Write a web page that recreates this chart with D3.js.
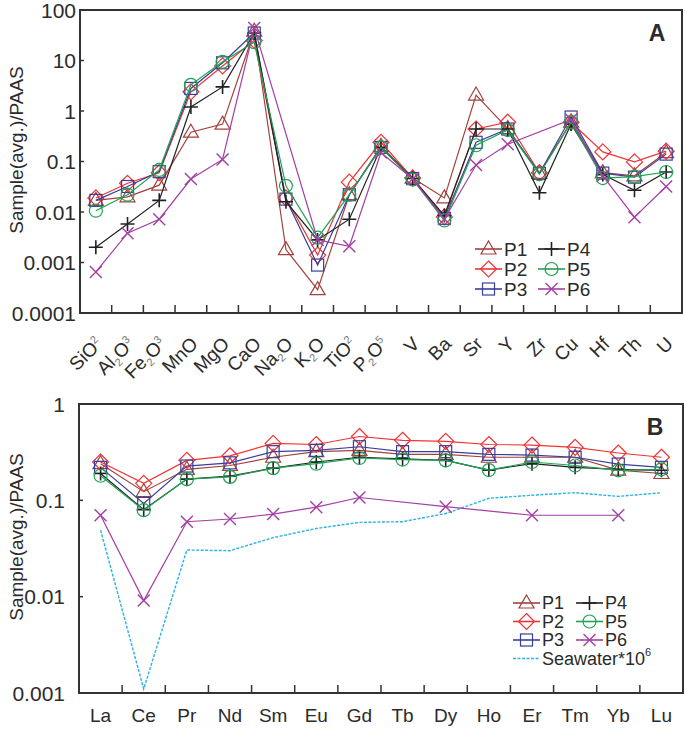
<!DOCTYPE html>
<html>
<head>
<meta charset="utf-8">
<script src="https://cdn.jsdelivr.net/npm/d3@7"></script>
<style>
  body { margin: 0; background: #fff; }
  svg { display: block; font-family: "Liberation Sans", Arial, sans-serif; }
</style>
</head>
<body>
<svg id="chart"></svg>
<script>
// ---- panel A : major / trace elements ----
var elementsA = ["SiO2","Al2O3","Fe2O3","MnO","MgO","CaO","Na2O","K2O","TiO2","P2O5","V","Ba","Sr","Y","Zr","Cu","Hf","Th","U"];
var p1A = [0.017, 0.02, 0.034, 0.38, 0.55, 38, 0.0018, 0.00029, 0.022, 0.2, 0.047, 0.019, 2.07, 0.45, 0.058, 0.6, 0.06, 0.052, 0.15];
var p2A = [0.019, 0.037, 0.06, 2.4, 7.8, 25, 0.019, 0.0014, 0.039, 0.24, 0.047, 0.008, 0.44, 0.6, 0.06, 0.6, 0.155, 0.098, 0.16];
var p3A = [0.017, 0.032, 0.063, 2.8, 9, 35, 0.018, 0.00089, 0.022, 0.19, 0.046, 0.0075, 0.24, 0.44, 0.058, 0.76, 0.059, 0.049, 0.14];
var p4A = [0.002, 0.0058, 0.017, 1.2, 3.0, 35, 0.016, 0.0028, 0.0072, 0.19, 0.046, 0.0085, 0.44, 0.44, 0.024, 0.55, 0.055, 0.027, 0.062];
var p5A = [0.0106, 0.022, 0.068, 3.3, 9.4, 23, 0.033, 0.0031, 0.022, 0.19, 0.044, 0.0068, 0.21, 0.42, 0.056, 0.6, 0.047, 0.05, 0.062];
var p6A = [0.00065, 0.0038, 0.0072, 0.045, 0.11, 44, null, 0.0028, 0.0021, 0.15, 0.045, 0.0073, 0.085, 0.22, null, 0.68, 0.052, 0.0079, 0.032];
var ticksA = [0.0001, 0.001, 0.01, 0.1, 1, 10, 100];
var tickLabelsA = ["0.0001", "0.001", "0.01", "0.1", "1", "10", "100"];

// ---- panel B : REE ----
var elementsB = ["La","Ce","Pr","Nd","Sm","Eu","Gd","Tb","Dy","Ho","Er","Tm","Yb","Lu"];
var p1B = [0.24, 0.123, 0.21, 0.23, 0.28, 0.32, 0.33, 0.30, 0.30, 0.28, 0.28, 0.28, 0.206, 0.19];
var p2B = [0.25, 0.15, 0.26, 0.29, 0.39, 0.38, 0.46, 0.42, 0.41, 0.38, 0.375, 0.355, 0.31, 0.28];
var p3B = [0.22, 0.093, 0.227, 0.245, 0.32, 0.33, 0.36, 0.32, 0.32, 0.30, 0.295, 0.28, 0.238, 0.22];
var p4B = [0.19, 0.08, 0.166, 0.178, 0.216, 0.25, 0.28, 0.27, 0.26, 0.206, 0.24, 0.22, 0.21, 0.205];
var p5B = [0.18, 0.079, 0.166, 0.175, 0.216, 0.24, 0.275, 0.265, 0.26, 0.206, 0.25, 0.23, 0.205, 0.21];
var p6B = [0.07, 0.0091, 0.06, 0.064, 0.072, 0.085, 0.107, null, 0.086, null, 0.07, null, 0.07, null];
var seawaterB = [0.049, 0.0011, 0.0305, 0.030, 0.041, 0.051, 0.059, 0.06, 0.073, 0.105, 0.113, 0.12, 0.11, 0.12];
var ticksB = [0.001, 0.01, 0.1, 1];
var tickLabelsB = ["0.001", "0.01", "0.1", "1"];

var seriesNames = ["P1", "P2", "P3", "P4", "P5", "P6"];
var seriesColors = ["#a3413c", "#ee3434", "#3a3e9c", "#222222", "#1ea352", "#a33fa3"];
var seriesMarks = ["triangle", "diamond", "square", "plus", "circle", "cross"];
var seawaterColor = "#29b2e3";

var W = 685, H = 729;
var svg = d3.select("#chart").attr("width", W).attr("height", H);
var textColor = "#2b2b2b";

function drawMarker(g, type, x, y, color) {
    var m = g.append("g").attr("transform", "translate(" + x + "," + y + ")")
        .attr("fill", "none").attr("stroke", color).attr("stroke-width", 1.2);
    if (type == "triangle") m.append("path").attr("d", "M0,-8L7.5,5L-7.5,5Z");
    if (type == "diamond") m.append("path").attr("d", "M0,-8L8,0L0,8L-8,0Z");
    if (type == "square") m.append("rect").attr("x", -6).attr("y", -6).attr("width", 12).attr("height", 12);
    if (type == "circle") m.append("circle").attr("r", 6.5);
    if (type == "plus") m.append("path").attr("d", "M-7,0H7M0,-7V7").attr("stroke-width", 1.6);
    if (type == "cross") m.append("path").attr("d", "M-6,-6L6,6M6,-6L-6,6").attr("stroke-width", 1.4);
}

function drawPanel(cfg) {
    var g = svg.append("g");
    var x = d3.scaleBand().domain(cfg.cats).range([cfg.left, cfg.right]).padding(0);
    var y = d3.scaleLog().domain(cfg.domain).range([cfg.bottom, cfg.top]);

    // frame
    g.append("rect")
        .attr("x", cfg.left).attr("y", cfg.top)
        .attr("width", cfg.right - cfg.left).attr("height", cfg.bottom - cfg.top)
        .attr("fill", "none").attr("stroke", "#333").attr("stroke-width", 2);

    // bottom ticks at category boundaries (inward)
    cfg.cats.slice(1).forEach(function(c) {
        g.append("line")
            .attr("x1", x(c)).attr("x2", x(c))
            .attr("y1", cfg.bottom).attr("y2", cfg.bottom - 8)
            .attr("stroke", "#333").attr("stroke-width", 1.5);
    });

    // y ticks + labels
    cfg.ticks.forEach(function(t, i) {
        g.append("line")
            .attr("x1", cfg.left).attr("x2", cfg.left + 4)
            .attr("y1", y(t)).attr("y2", y(t))
            .attr("stroke", "#333").attr("stroke-width", 1.5);
        g.append("text")
            .attr("x", cfg.labelX).attr("y", y(t))
            .attr("text-anchor", "end").attr("dominant-baseline", "central")
            .attr("font-size", 21).attr("fill", textColor)
            .text(cfg.tickLabels[i]);
    });

    // y title
    g.append("text")
        .attr("transform", "translate(16," + cfg.titleY + ") rotate(-90)")
        .attr("text-anchor", "middle").attr("dominant-baseline", "central")
        .attr("font-size", 19).attr("fill", textColor)
        .text("Sample(avg.)/PAAS");

    // panel letter
    g.append("text")
        .attr("x", cfg.letterX).attr("y", cfg.letterY)
        .attr("text-anchor", "middle").attr("font-weight", "bold")
        .attr("font-size", 23).attr("fill", textColor)
        .text(cfg.letter);

    var cx = function(i) { return x(cfg.cats[i]) + x.bandwidth() / 2; };
    var line = d3.line().x(function(d) { return cx(d.i); }).y(function(d) { return y(d.v); });

    // seawater curve
    if (cfg.seawater) {
        var sw = cfg.seawater.map(function(v, i) { return {i: i, v: v}; });
        g.append("path").attr("d", line(sw))
            .attr("fill", "none").attr("stroke", seawaterColor)
            .attr("stroke-width", 1.4).attr("stroke-dasharray", "3,1.5");
    }

    cfg.series.forEach(function(vals, s) {
        var pts = vals.map(function(v, i) { return {i: i, v: v}; })
            .filter(function(d) { return d.v != null; });
        g.append("path").attr("d", line(pts))
            .attr("fill", "none").attr("stroke", seriesColors[s]).attr("stroke-width", 1.2);
        pts.forEach(function(d) {
            drawMarker(g, seriesMarks[s], cx(d.i), y(d.v), seriesColors[s]);
        });
    });

    // legend
    seriesNames.forEach(function(name, s) {
        var col = Math.floor(s / 3), row = s % 3;
        var lx = cfg.legX + col * cfg.legColW, ly = cfg.legY + row * cfg.legRowH;
        g.append("line")
            .attr("x1", lx).attr("x2", lx + 27).attr("y1", ly).attr("y2", ly)
            .attr("stroke", seriesColors[s]).attr("stroke-width", 1.6);
        drawMarker(g, seriesMarks[s], lx + 13.5, ly, seriesColors[s]);
        g.append("text")
            .attr("x", lx + 29).attr("y", ly).attr("dominant-baseline", "central")
            .attr("font-size", cfg.legFont).attr("fill", textColor)
            .text(name);
    });
    if (cfg.seawater) {
        var ly = cfg.legY + 3 * cfg.legRowH;
        g.append("line")
            .attr("x1", cfg.legX).attr("x2", cfg.legX + 27).attr("y1", ly).attr("y2", ly)
            .attr("stroke", seawaterColor).attr("stroke-width", 1.6).attr("stroke-dasharray", "3,1.5");
        var st = g.append("text")
            .attr("x", cfg.legX + 29).attr("y", ly).attr("dominant-baseline", "central")
            .attr("font-size", cfg.legFont).attr("fill", textColor);
        st.append("tspan").text("Seawater*10");
        st.append("tspan").attr("font-size", 11).attr("dy", -7).text("6");
    }

    // x labels
    cfg.cats.forEach(function(c, i) {
        if (cfg.rotate) {
            var t = g.append("text")
                .attr("transform", "translate(" + (cx(i) + 8) + "," + (cfg.bottom + 32) + ") rotate(-45)")
                .attr("text-anchor", "end").attr("font-size", 19).attr("fill", textColor);
            var parts = c.match(/[A-Za-z]+|\d/g);
            var shift = 0;
            parts.forEach(function(p, k) {
                if (/\d/.test(p)) {
                    var last = (k == parts.length - 1);
                    var target = last ? -7 : 4;
                    t.append("tspan").attr("font-size", 11).attr("fill", "#777")
                        .attr("dy", target - shift).text(p);
                    shift = target;
                } else {
                    t.append("tspan").attr("dy", -shift).text(p);
                    shift = 0;
                }
            });
        } else {
            g.append("text")
                .attr("x", cx(i)).attr("y", cfg.bottom + 29)
                .attr("text-anchor", "middle").attr("font-size", 19).attr("fill", textColor)
                .text(c);
        }
    });
}

drawPanel({
    cats: elementsA, left: 80, right: 682, top: 10, bottom: 313,
    domain: [0.0001, 100], ticks: ticksA, tickLabels: tickLabelsA, labelX: 76,
    titleY: 150, letter: "A", letterX: 657, letterY: 41,
    series: [p1A, p2A, p3A, p4A, p5A, p6A],
    legX: 475, legY: 249, legColW: 63, legRowH: 20, legFont: 19,
    rotate: true
});

drawPanel({
    cats: elementsB, left: 79, right: 683, top: 404, bottom: 693,
    domain: [0.001, 1], ticks: ticksB, tickLabels: tickLabelsB, labelX: 65,
    titleY: 537, letter: "B", letterX: 655, letterY: 435,
    series: [p1B, p2B, p3B, p4B, p5B, p6B], seawater: seawaterB,
    legX: 513, legY: 603, legColW: 63, legRowH: 18.5, legFont: 18,
    rotate: false
});
</script>
</body>
</html>
